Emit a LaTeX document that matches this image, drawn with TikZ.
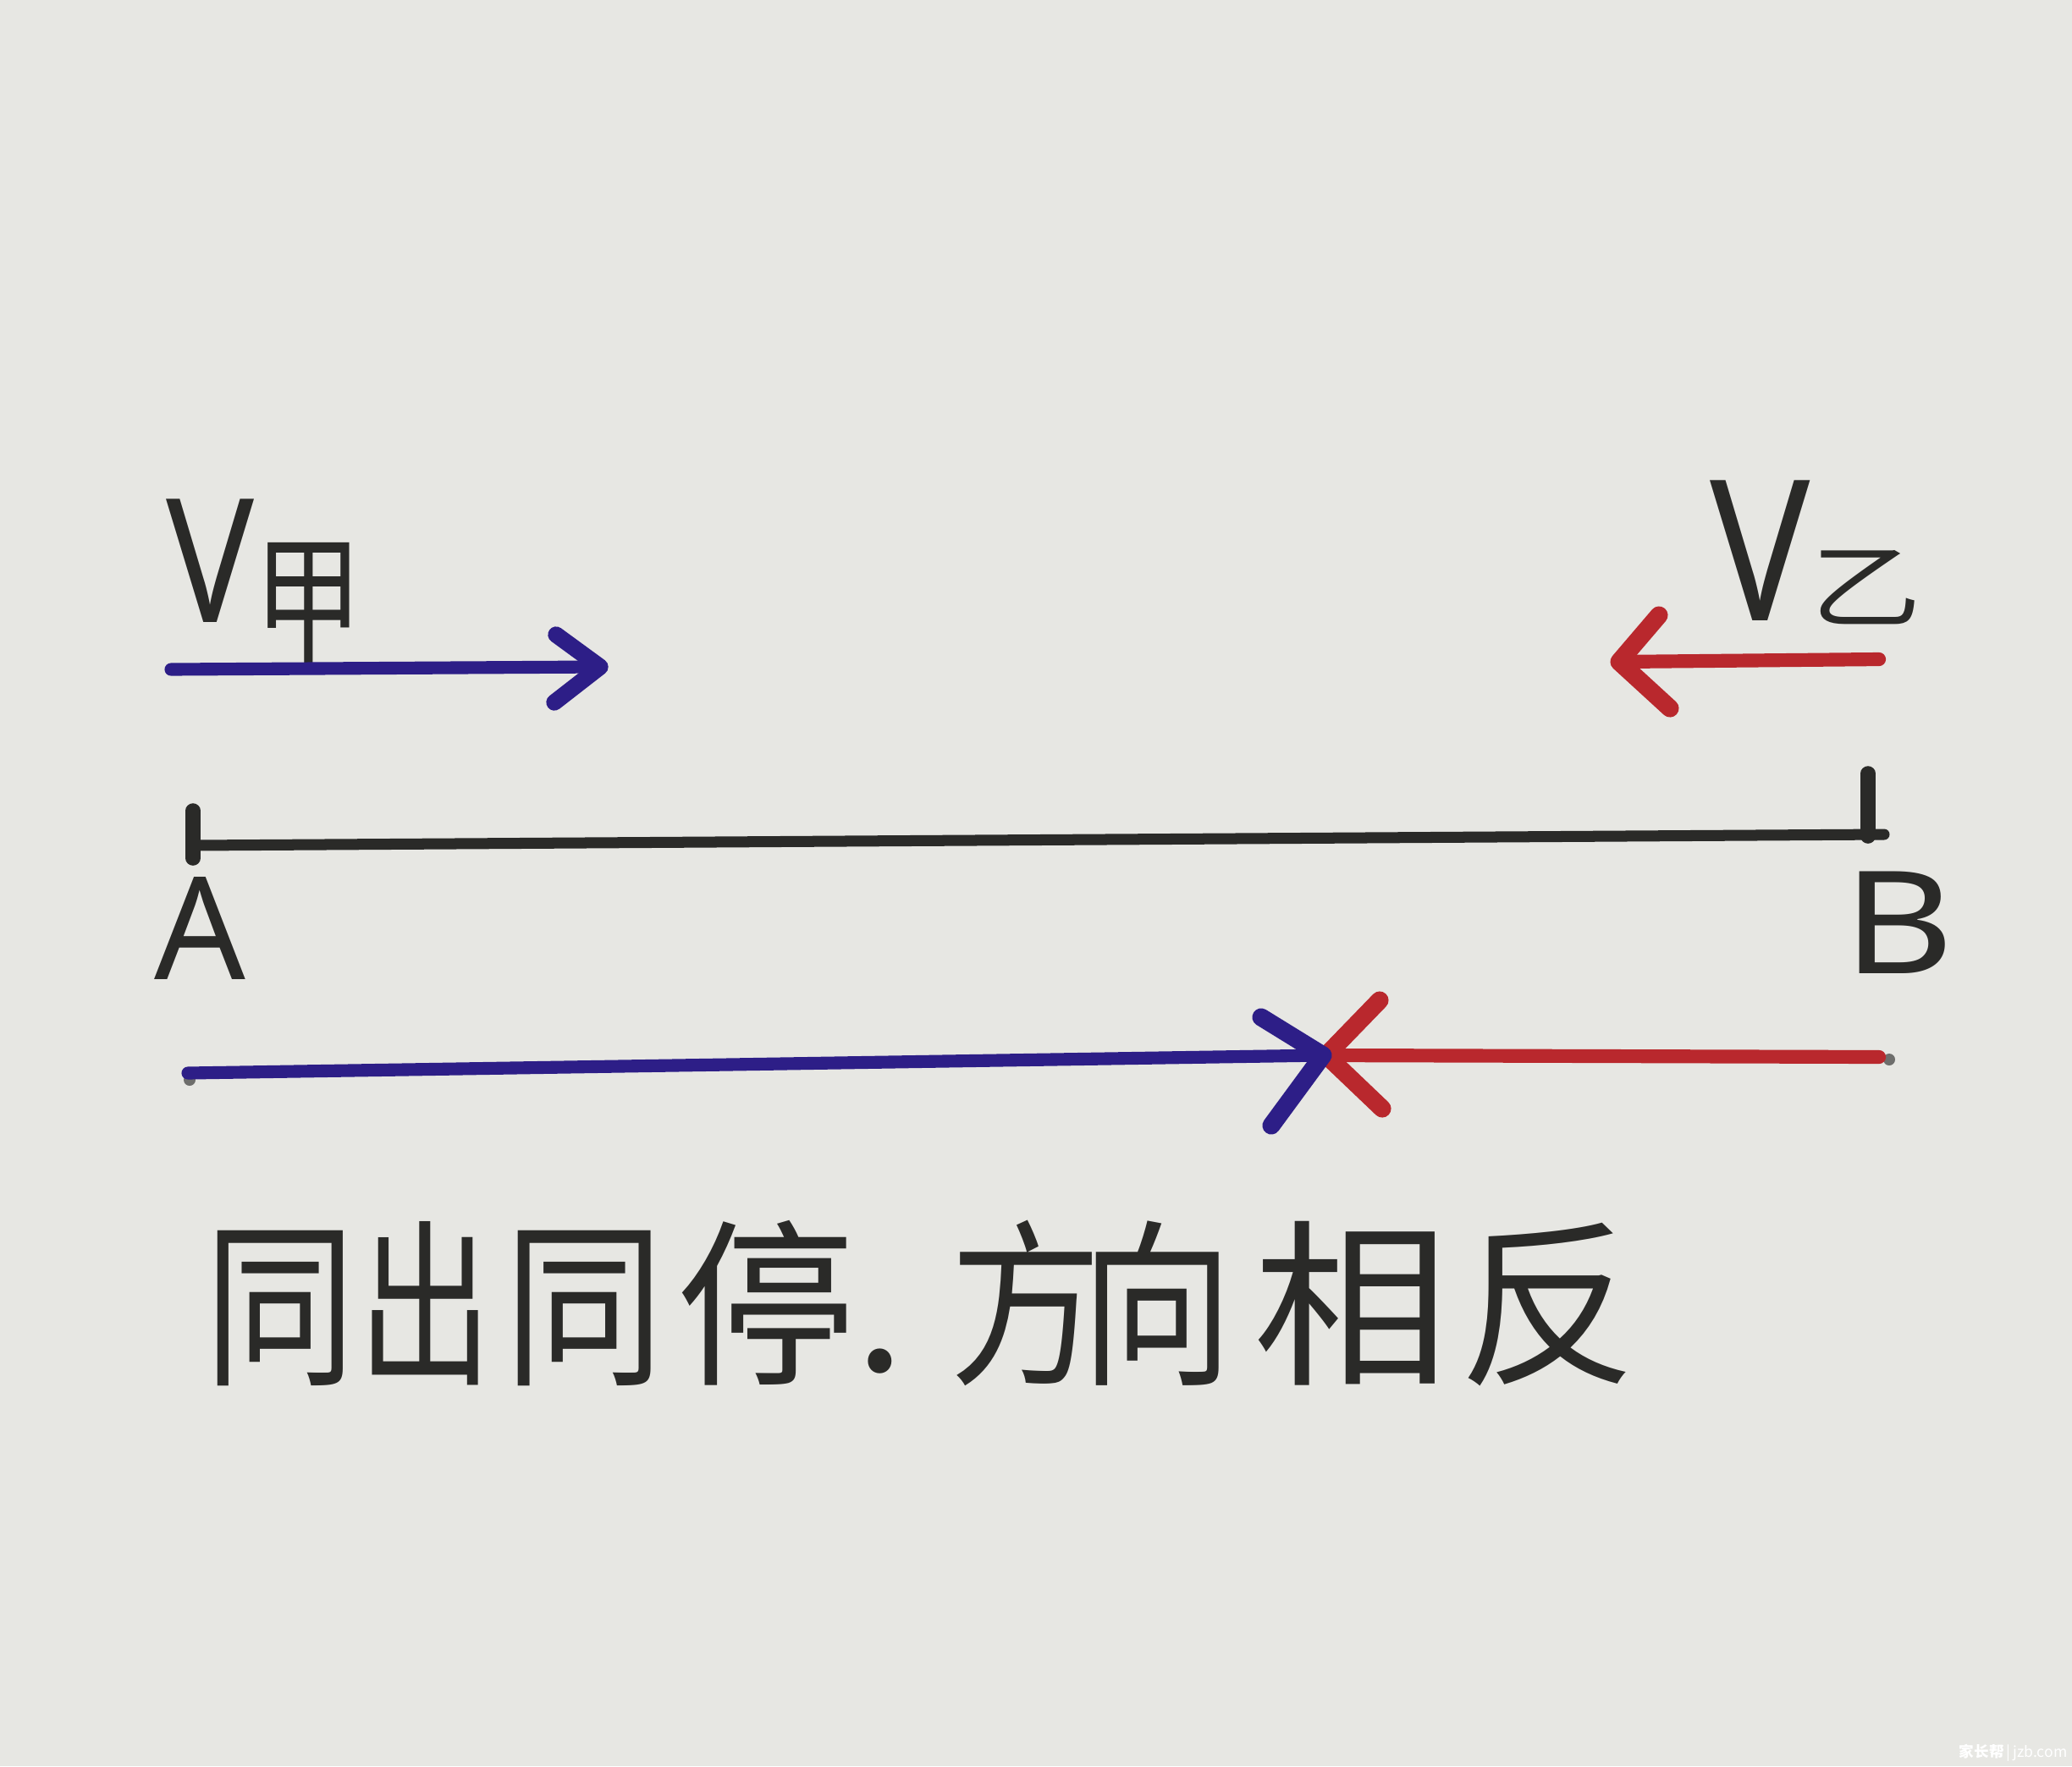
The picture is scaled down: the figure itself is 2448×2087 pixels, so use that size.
\documentclass[tikz,border=0pt]{standalone}
\usepackage{fontspec}
\setmainfont{Noto Sans}
\newfontfamily\cjk{Noto Sans CJK SC}
\definecolor{paper}{RGB}{231,231,227}
\definecolor{inkblue}{RGB}{45,30,135}
\definecolor{inkred}{RGB}{185,40,45}
\definecolor{ink}{RGB}{42,42,40}
\definecolor{pencil}{RGB}{110,110,108}
\begin{document}
\begin{tikzpicture}[x={(0.01cm,0)}, y={(0,-0.01cm)},
  pen/.style={line cap=round, line join=round},
  bluepen/.style={pen, draw=inkblue, line width=4.3pt},
  redpen/.style={pen, draw=inkred, line width=4.6pt},
  blackpen/.style={pen, draw=ink, line width=3.7pt},
  lbl/.style={inner sep=0pt, anchor=base, text=ink},
  vlbl/.style={inner sep=0pt, anchor=base west, text=ink},
  bigcjk/.style={lbl, font=\cjk\fontsize{60}{70}\selectfont},
]
\fill[paper] (0,0) rectangle (2448,2087);
\useasboundingbox (0,0) rectangle (2448,2087);

% ---- labels V甲 / V乙
\node[vlbl] (vj) at (196,735) {\fontsize{58}{66}\selectfont\scalebox{0.85}[1]{V}\raisebox{-10.8pt}{\cjk\fontsize{48}{58}\selectfont\scalebox{0.76}[1]{甲}}};
\node[vlbl] (vy) at (2020,733) {\fontsize{66}{76}\selectfont\scalebox{0.85}[1]{V}{\cjk\fontsize{31}{40}\selectfont\scalebox{1.2}[1]{乙}}};

% ---- top blue arrow
\coordinate (s1) at (202,791);
\coordinate (t1) at (709,788);
\coordinate (b1a) at (657,750);
\coordinate (b1b) at (655,830);
\draw[bluepen] (s1) -- (t1);
\draw[bluepen, line width=5.5pt] (b1a) -- (t1) -- (b1b);

% ---- top red arrow
\coordinate (s2) at (2220,779);
\coordinate (t2) at (1913,782);
\coordinate (b2a) at (1960,727);
\coordinate (b2b) at (1973,837);
\draw[redpen] (s2) -- (t2);
\draw[redpen, line width=6pt] (b2a) -- (t2) -- (b2b);

% ---- segment AB
\coordinate (pA) at (228,999);
\coordinate (pB) at (2226,986);
\coordinate (tA1) at (228,958);
\coordinate (tA2) at (228,1014);
\coordinate (tB1) at (2207,914);
\coordinate (tB2) at (2207,988);
\draw[blackpen] (pA) -- (pB);
\draw[blackpen, line width=5pt] (tA1) -- (tA2);
\draw[blackpen, line width=5pt] (tB1) -- (tB2);
\node[lbl, font=\fontsize{48}{56}\selectfont] (A) at (236,1157) {A};
\node[lbl, font=\fontsize{48}{56}\selectfont] (B) at (2243,1150) {\scalebox{1.2}[1]{B}};

% ---- bottom arrows meeting
\coordinate (s3) at (222,1268);
\coordinate (t3) at (1563,1247);
\coordinate (b3a) at (1490,1202);
\coordinate (b3b) at (1502,1330);
\coordinate (s4) at (2220,1249);
\coordinate (t4) at (1567,1247);
\coordinate (b4a) at (1630,1182);
\coordinate (b4b) at (1633,1310);
\fill[pencil] (224,1276) circle (7);
\fill[pencil] (2232,1252) circle (7);
\draw[redpen] (s4) -- (t4);
\draw[redpen, line width=6pt] (b4a) -- (t4) -- (b4b);
\draw[bluepen] (s3) -- (t3);
\draw[bluepen, line width=6pt] (b3a) -- (t3) -- (b3b);

% ---- caption
\node[bigcjk] (c1) at (331,1620) {\scalebox{0.85}[1]{同}};
\node[bigcjk] (c2) at (503,1620) {\scalebox{0.75}[1]{出}};
\node[bigcjk] (c3) at (690,1620) {\scalebox{0.9}[1]{同}};
\node[bigcjk] (c4) at (905,1620) {\scalebox{1.0}[1]{停}};
\node[bigcjk] (c5) at (1040,1620) {.};
\node[bigcjk] (c6) at (1212,1620) {\scalebox{0.85}[1]{方}};
\node[bigcjk] (c7) at (1367,1620) {\scalebox{0.85}[1]{向}};
\node[bigcjk] (c8) at (1597,1620) {\scalebox{1.1}[1]{相}};
\node[bigcjk] (c9) at (1829,1620) {\scalebox{1.0}[1]{反}};

% ---- watermark
\node[inner sep=0pt, anchor=east, text=white, font=\cjk\fontsize{5}{6}\selectfont] (wm) at (2443,2071) {\textbf{家长帮}\,|\,jzb.com};
\end{tikzpicture}
\end{document}
